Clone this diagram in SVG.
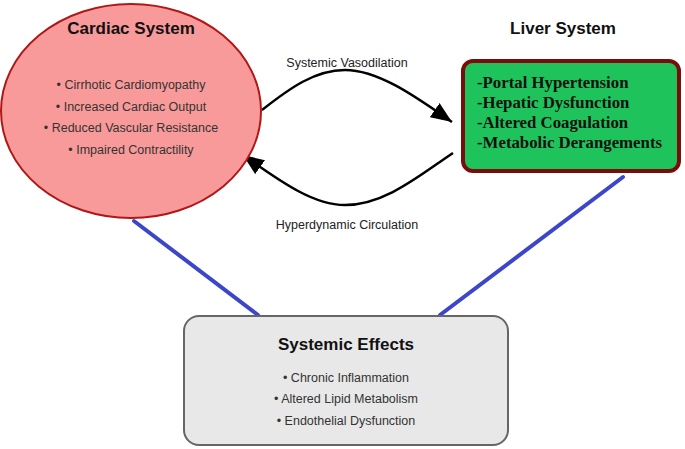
<svg xmlns="http://www.w3.org/2000/svg" width="685" height="449" viewBox="0 0 685 449">
<style>
.sans{font-family:"Liberation Sans",Arial,sans-serif;}
.title{font-size:17px;font-weight:bold;fill:#111;text-anchor:middle;}
.item{font-size:12.5px;fill:#333;text-anchor:middle;}
.lbl{font-size:12.5px;fill:#222;text-anchor:middle;}
.liver{font-family:"Liberation Serif","Times New Roman",serif;font-size:16.8px;font-weight:bold;fill:#111;}
.curve{fill:none;stroke:#000;stroke-width:2.5;}
.blue{stroke:#3b46c8;stroke-width:4;stroke-linecap:round;}
</style>
<defs>
<marker id="ah" markerUnits="userSpaceOnUse" markerWidth="22" markerHeight="18" refX="21" refY="8.5" orient="auto">
<path d="M0,0 L21,8.5 L0,17 z" fill="#000"/>
</marker>
</defs>
<rect width="685" height="449" fill="#fff"/>
<g id="connectors">
<line class="blue" x1="134" y1="221" x2="258" y2="315"/>
<line class="blue" x1="440" y1="315" x2="623" y2="177"/>
<path class="curve" d="M262,110 C290,88 315,70 345,70 C380,70 420,100 452,122" marker-end="url(#ah)"/>
<path class="curve" d="M453,153 C420,175 385,205 345,205 C315,205 285,185 243,155" marker-end="url(#ah)"/>
<text class="sans lbl" x="347" y="67">Systemic Vasodilation</text>
<text class="sans lbl" x="347" y="229">Hyperdynamic Circulation</text>
</g>
<g id="cardiac">
<ellipse cx="131" cy="111" rx="130" ry="107" fill="#f99a9a" stroke="#b01818" stroke-width="2"/>
<text class="sans title" x="131" y="34">Cardiac System</text>
<text class="sans item" x="131" y="89">• Cirrhotic Cardiomyopathy</text>
<text class="sans item" x="131" y="111">• Increased Cardiac Output</text>
<text class="sans item" x="131" y="132">• Reduced Vascular Resistance</text>
<text class="sans item" x="131" y="154">• Impaired Contractility</text>
</g>
<g id="liver">
<text class="sans title" x="563" y="34">Liver System</text>
<rect x="463" y="61" width="216" height="110" rx="10" fill="#1fc35b" stroke="#7a0c0c" stroke-width="4"/>
<text class="liver" x="477" y="88">-Portal Hypertension</text>
<text class="liver" x="477" y="108">-Hepatic Dysfunction</text>
<text class="liver" x="477" y="128">-Altered Coagulation</text>
<text class="liver" x="477" y="148">-Metabolic Derangements</text>
</g>
<g id="systemic">
<rect x="184" y="316" width="324" height="129" rx="15" fill="#e8e8e8" stroke="#666" stroke-width="2"/>
<text class="sans title" x="346" y="350">Systemic Effects</text>
<text class="sans item" x="346" y="382">• Chronic Inflammation</text>
<text class="sans item" x="346" y="403">• Altered Lipid Metabolism</text>
<text class="sans item" x="346" y="425">• Endothelial Dysfunction</text>
</g>
</svg>
